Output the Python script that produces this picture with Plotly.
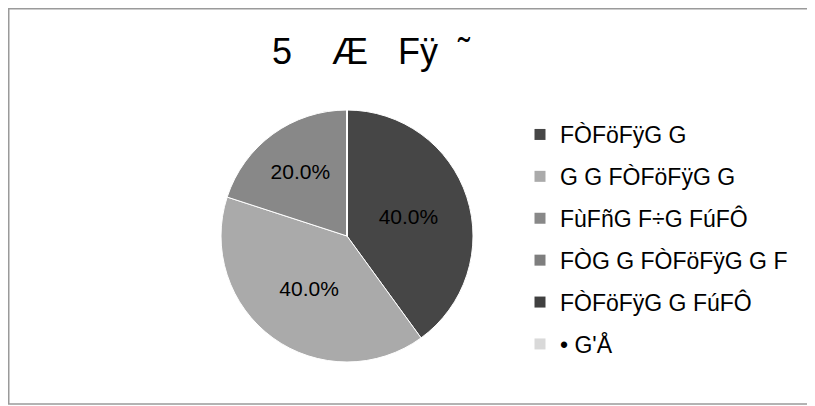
import plotly.graph_objects as go

labels = ["FÒFöFÿG G", "G G FÒFöFÿG G", "FùFñG F÷G FúFÔ",
          "FÒG G FÒFöFÿG G F", "FÒFöFÿG G FúFÔ", "• G'Å"]
values = [40, 40, 20, 0, 0, 0]
colors = ["#464646", "#aaaaaa", "#888888", "#7e7e7e", "#404040", "#d9d9d9"]
title_text = "5\u00a0\u00a0\u00a0\u00a0Æ\u00a0\u00a0\u00a0Fÿ\u00a0\u00a0˜"

W, H = 815, 406
OFF = 8  # page body margin
cx, cy, r = 347 - OFF, 236 - OFF, 126

fig = go.Figure()
fig.add_trace(go.Pie(
    labels=labels, values=values, sort=False, direction="clockwise", rotation=0,
    marker=dict(colors=colors, line=dict(color="#ffffff", width=1)),
    texttemplate="%{percent:.1%}", textposition="inside", insidetextorientation="horizontal",
    textfont=dict(family="Liberation Sans, Arial", size=21, color="#000000"),
    showlegend=False, hoverinfo="label+percent",
    domain=dict(x=[(cx - r) / W, (cx + r) / W], y=[1 - (cy + r) / H, 1 - (cy - r) / H]),
))
for i, (lab, col) in enumerate(zip(labels, colors)):
    fig.add_trace(go.Scatter(
        x=[None], y=[None], mode="markers", name=lab, legendgroup=f"g{i}",
        marker=dict(symbol="square", size=11, color=col), showlegend=True,
    ))

fig.update_layout(
    width=W, height=H, margin=dict(l=0, r=0, t=0, b=0),
    paper_bgcolor="#ffffff", plot_bgcolor="#ffffff",
    xaxis=dict(visible=False), yaxis=dict(visible=False),
    font=dict(family="Liberation Sans, Arial", color="#000000"),
    legend=dict(x=512 / W, y=1 - 105 / H, xanchor="left", yanchor="top",
                font=dict(size=23, color="#000000"), tracegroupgap=9,
                itemclick=False, bgcolor="rgba(0,0,0,0)"),
    annotations=[dict(text=title_text, x=(371 - OFF) / W, y=1 - (52 - OFF) / H,
                      xref="paper", yref="paper",
                      showarrow=False, xanchor="center", yanchor="middle",
                      font=dict(size=36, color="#000000", family="Liberation Sans, Arial"))],
    shapes=[dict(type="rect", xref="paper", yref="paper", x0=0.75 / W, x1=1.05,
                 y0=1 - (404 - OFF) / H, y1=1 - 0.75 / H, line=dict(color="#9a9a9a", width=1.5))],
)
fig.write_html("out.html")
